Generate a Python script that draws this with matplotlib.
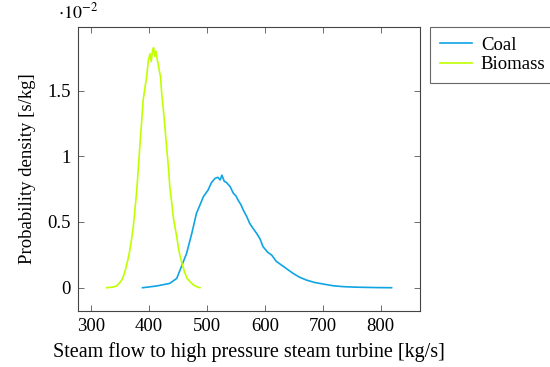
import matplotlib
matplotlib.use("Agg")
import matplotlib.pyplot as plt
from matplotlib.ticker import FuncFormatter

plt.rcParams['font.family'] = ['Liberation Serif', 'DejaVu Serif']
plt.rcParams['mathtext.fontset'] = 'stix'

# densities, in units of 1e-2 s/kg
coal_x = [389, 413, 436, 448, 456, 465, 474, 482, 494, 502, 508, 514, 519, 523, 526,
          530, 534, 540, 546, 550, 554, 559, 563, 569, 574, 580, 586, 592, 597, 605,
          612, 620, 629, 639, 649, 660, 672, 686, 701, 718, 736, 752, 770, 795, 819]
coal_y = [0.0, 0.013, 0.033, 0.071, 0.16, 0.261, 0.413, 0.565, 0.692, 0.742, 0.80, 0.831,
          0.84, 0.82, 0.856, 0.81, 0.80, 0.77, 0.717, 0.70, 0.666, 0.63, 0.59, 0.54, 0.489,
          0.45, 0.413, 0.37, 0.312, 0.27, 0.248, 0.20, 0.172, 0.14, 0.109, 0.08, 0.058,
          0.04, 0.028, 0.015, 0.008, 0.005, 0.003, 0.001, 0.0]

bio_x = [327, 338, 344, 349, 353, 357, 360, 364, 367, 370, 373, 376, 379, 382, 385, 388,
         390, 393, 396, 399, 402, 404, 406, 408, 410, 412, 414, 416, 418, 420, 422, 425,
         428, 431, 434, 436, 439, 442, 445, 448, 451, 454, 458, 462, 466, 471, 477, 483, 488]
bio_y = [0.0, 0.005, 0.013, 0.035, 0.058, 0.10, 0.147, 0.22, 0.286, 0.37, 0.464, 0.60,
         0.742, 0.93, 1.122, 1.30, 1.426, 1.52, 1.603, 1.73, 1.78, 1.72, 1.80, 1.826, 1.76,
         1.80, 1.743, 1.70, 1.65, 1.603, 1.48, 1.35, 1.20, 1.046, 0.90, 0.767, 0.66, 0.54,
         0.46, 0.388, 0.30, 0.236, 0.17, 0.114, 0.07, 0.046, 0.02, 0.007, 0.0]

xticks = [300, 400, 500, 600, 700, 800]
yticks = [0, 0.5, 1, 1.5]

fig = plt.figure(figsize=(5.5, 3.67), dpi=100)
ax = fig.add_axes([0.1418, 0.1526, 0.6218, 0.7738])

ax.plot(coal_x, coal_y, color='#10a4e4', lw=1.2, label='Coal')
ax.plot(bio_x, bio_y, color='#bfff00', lw=1.2, label='Biomass')

ax.set_xlim(277.5, 868)
ax.set_ylim(-0.177, 1.983)
ax.set_xticks(xticks)
ax.set_yticks(yticks)
ax.yaxis.set_major_formatter(FuncFormatter(lambda v, p: '%g' % v))
ax.tick_params(direction='in', top=True, right=True, length=4, width=0.6,
               colors='#555555', labelcolor='black', labelsize=13.5, pad=5)
for s in ax.spines.values():
    s.set_color('#444444')
    s.set_linewidth(0.8)

ax.set_xlabel('Steam flow to high pressure steam turbine [kg/s]', fontsize=14.5, labelpad=5)
ax.set_ylabel('Probability density [s/kg]', fontsize=13.5, labelpad=8)
ax.text(0.0, 1.015, r'$\cdot 10^{-2}$', transform=ax.transAxes, fontsize=13,
        ha='center', va='bottom')

leg = ax.legend(loc='upper left', bbox_to_anchor=(1.03, 1.0), fontsize=13.5,
                frameon=True, fancybox=False, edgecolor='#444444', handlelength=1.75,
                handletextpad=0.45, borderpad=0.5, labelspacing=0.15, borderaxespad=0)
leg.get_frame().set_linewidth(0.8)

fig.savefig('out.png', dpi=100)
